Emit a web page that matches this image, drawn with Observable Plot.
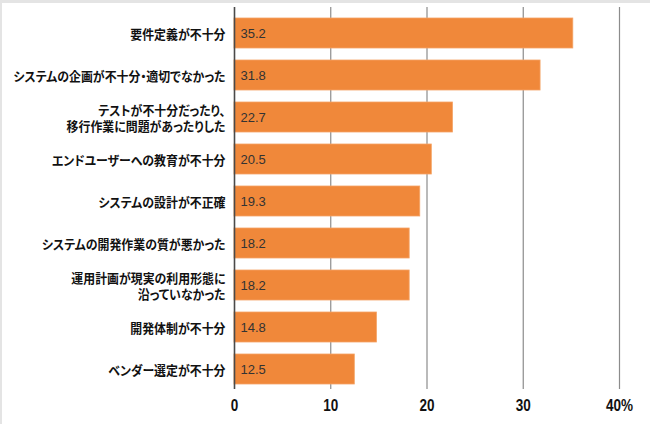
<!DOCTYPE html>
<html><head><meta charset="utf-8">
<script src="https://cdn.jsdelivr.net/npm/d3@7"></script>
<script src="https://cdn.jsdelivr.net/npm/@observablehq/plot@0.6"></script>
<style>
body{margin:0;background:#fff;}
#wrap{position:relative;width:650px;height:424px;overflow:hidden;background:#fff;}
#frame{position:absolute;left:0;top:0;width:650px;height:424px;box-sizing:border-box;border-top:3px solid #e4e4e4;border-left:2px solid #e4e4e4;pointer-events:none;}
svg{display:block;}
</style></head><body><div id="wrap"><div id="frame"></div></div>
<script>
const categories = [
  "要件定義が不十分",
  "システムの企画が不十分・適切でなかった",
  "テストが不十分だったり、\n移行作業に問題があったりした",
  "エンドユーザーへの教育が不十分",
  "システムの設計が不正確",
  "システムの開発作業の質が悪かった",
  "運用計画が現実の利用形態に\n沿っていなかった",
  "開発体制が不十分",
  "ベンダー選定が不十分"
];
const values = [35.2, 31.8, 22.7, 20.5, 19.3, 18.2, 18.2, 14.8, 12.5];
const xTicks = [0, 10, 20, 30, 40];
const gridTicks = [10, 20, 30, 40];

const data = categories.map((c, i) => ({cat: c, value: values[i]}));
const cjk = "'Noto Sans CJK JP', 'Noto Sans', sans-serif";

const chart = Plot.plot({
  width: 650,
  height: 424,
  marginLeft: 234,
  marginRight: 31,
  marginTop: 7,
  marginBottom: 35,
  style: {fontFamily: "'Liberation Sans', Arial, sans-serif", background: "transparent"},
  x: {domain: [0, 40], axis: null},
  y: {domain: categories, axis: null, paddingInner: 0.287, paddingOuter: 0.1435, range: [8.6, 393.8]},
  marks: [
    Plot.ruleX(gridTicks, {x: d => d, stroke: "#8c8c8c", strokeWidth: 1.2}),
    Plot.barX(data, {x: "value", y: "cat", fill: "#F0883A", stroke: "#F4A466", strokeWidth: 0.8}),
    Plot.ruleX([0], {x: d => d, stroke: "#4a4a4a", strokeWidth: 1.6}),
    Plot.text(data, {y: "cat", text: d => d.value.toFixed(1), frameAnchor: "left", textAnchor: "start", dx: 6, fontSize: 13, fill: "#333"}),
    Plot.text(data, {className: "catlab", y: "cat", text: "cat", frameAnchor: "left", textAnchor: "end", dx: -9, fontSize: 12.8, fontWeight: "bold", lineHeight: 1.3, fill: "#111", fontFamily: cjk}),
    Plot.text(xTicks, {className: "xtick", x: d => d, text: d => d === 40 ? "40%" : String(d), frameAnchor: "bottom", lineAnchor: "middle", dy: 16, fontSize: 16.5, fontWeight: "bold", fill: "#111", fontFamily: "'Liberation Sans', Arial, sans-serif"})
  ]
});
chart.querySelectorAll(".catlab text").forEach(t => {
  t.style.fontFeatureSettings = '"palt"';
  t.setAttribute("transform", (t.getAttribute("transform") || "") + " scale(0.93,1)");
});
chart.querySelectorAll(".xtick text").forEach(t => {
  t.setAttribute("transform", (t.getAttribute("transform") || "") + " scale(0.82,1)");
});
document.getElementById("wrap").insertBefore(chart, document.getElementById("frame"));
</script>
</body></html>
